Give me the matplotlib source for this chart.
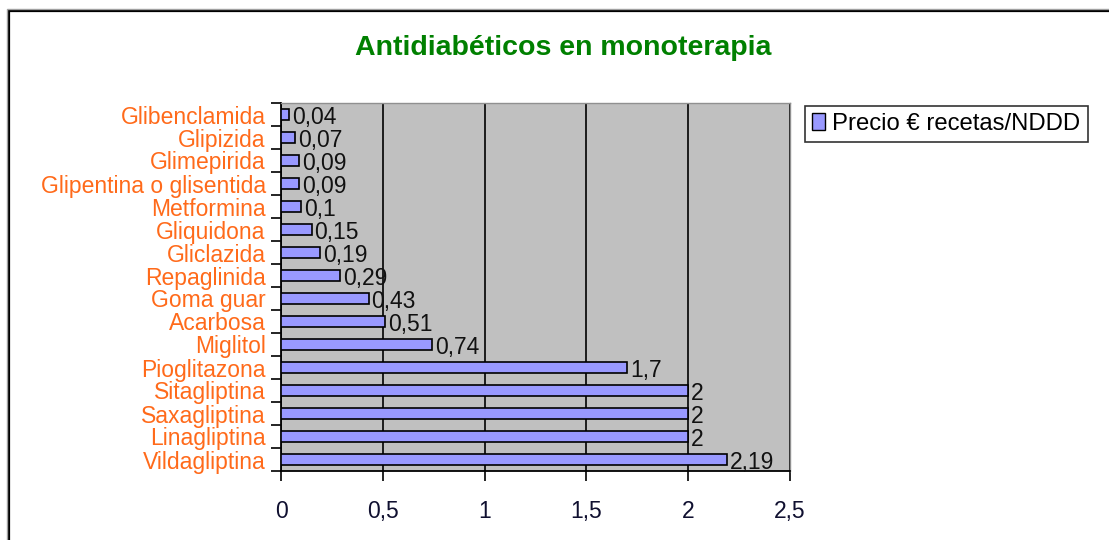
import matplotlib
matplotlib.use("Agg")
import matplotlib.pyplot as plt
from matplotlib.patches import Rectangle, Patch
from matplotlib.ticker import FixedLocator, FuncFormatter

farmacos = [
    "Glibenclamida", "Glipizida", "Glimepirida", "Glipentina o glisentida",
    "Metformina", "Gliquidona", "Gliclazida", "Repaglinida", "Goma guar",
    "Acarbosa", "Miglitol", "Pioglitazona", "Sitagliptina", "Saxagliptina",
    "Linagliptina", "Vildagliptina",
]
precio = [0.04, 0.07, 0.09, 0.09, 0.1, 0.15, 0.19, 0.29, 0.43, 0.51, 0.74,
          1.7, 2, 2, 2, 2.19]
x_ticks = [0, 0.5, 1, 1.5, 2, 2.5]
serie = "Precio € recetas/NDDD"
titulo = "Antidiabéticos en monoterapia"

plt.rcParams["font.family"] = ["Liberation Sans", "DejaVu Sans"]


def coma(v):
    s = f"{v:g}"
    return s.replace(".", ",")


fig = plt.figure(figsize=(11.09, 5.40), dpi=100)
W, H = 1109, 540

# outer chart frame (extends past the right and bottom edges)
fig.patches.append(Rectangle((9 / W, -0.1), 1.2, 1 - 11 / H + 0.1,
                             transform=fig.transFigure, fill=False,
                             edgecolor="black", linewidth=1.6))
fig.patches.append(Rectangle((7 / W, -0.1), 1.2, 1 - 9 / H + 0.1,
                             transform=fig.transFigure, fill=False,
                             edgecolor="#a0a0a0", linewidth=1.0))

ax = fig.add_axes([281 / W, 1 - 471 / H, 509 / W, 368 / H])
ax.set_facecolor("#c0c0c0")

ys = list(range(len(farmacos)))
ax.barh(ys, precio, height=0.5, color="#9999ff", edgecolor="black",
        linewidth=1.2, zorder=3)
for y, v in zip(ys, precio):
    ax.text(v + 0.015, y + 0.12, coma(v), va="center", ha="left",
            fontsize=16.5, color="#111111", zorder=4)

ax.set_xlim(0, 2.5)
ax.set_ylim(len(farmacos) - 0.5, -0.5)
ax.xaxis.set_major_locator(FixedLocator(x_ticks))
ax.xaxis.set_major_formatter(FuncFormatter(lambda v, pos: coma(v)))
ax.grid(axis="x", color="black", linewidth=1.2, zorder=1)

ax.set_yticks(ys)
ax.set_yticklabels(farmacos, fontsize=16.5, color="#ff6a1a")
ax.tick_params(axis="y", length=0, pad=11)
ax.set_yticks([y - 0.5 for y in ys] + [len(ys) - 0.5], minor=True)
ax.tick_params(axis="y", which="minor", length=7, width=1.2, direction="out")
ax.tick_params(axis="x", length=7, width=1.2, direction="out", pad=14,
               labelsize=16.5, labelcolor="#101030")

for side in ("top", "right"):
    ax.spines[side].set_color("#909090")
    ax.spines[side].set_linewidth(1.0)
for side in ("left", "bottom"):
    ax.spines[side].set_color("black")
    ax.spines[side].set_linewidth(1.3)

fig.text(563 / W, 1 - 48 / H, titulo, ha="center", va="center",
         fontsize=20.5, fontweight="bold", color="#008000")

leg = fig.legend(handles=[Patch(facecolor="#9999ff", edgecolor="black",
                                label=serie)],
                 loc="upper left", bbox_to_anchor=(805 / W, 1 - 106 / H),
                 frameon=True, fancybox=False, fontsize=17.2,
                 handlelength=0.55, handleheight=0.7, handletextpad=0.3,
                 borderpad=0.3, borderaxespad=0)
leg.get_frame().set_edgecolor("black")
leg.get_frame().set_linewidth(1.2)

fig.savefig("out.png", dpi=100)
